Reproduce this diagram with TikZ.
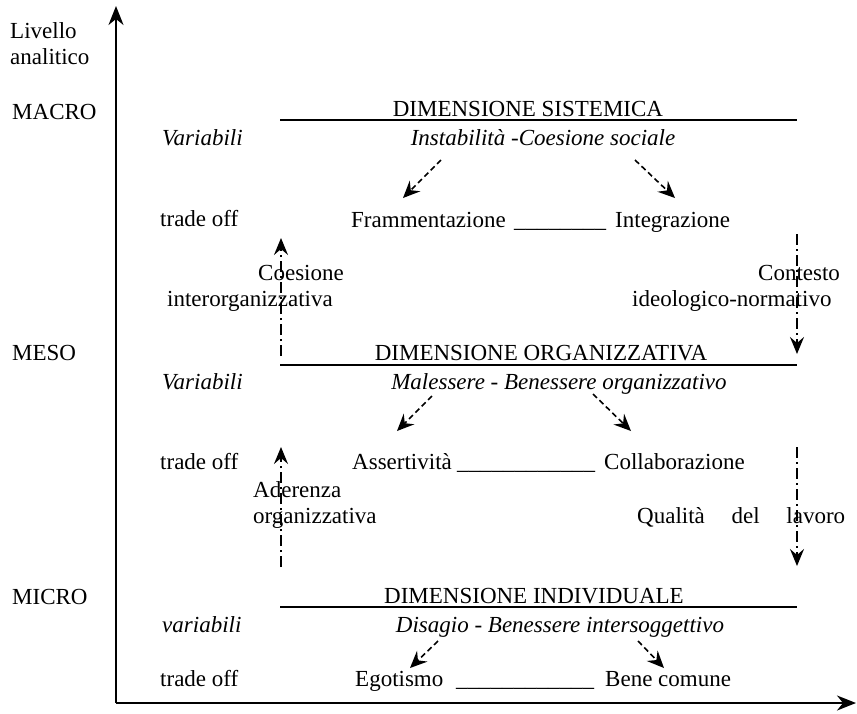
\documentclass[tikz,border=0pt]{standalone}
\usepackage{fontspec}
\setmainfont{Liberation Serif}
\usetikzlibrary{arrows.meta}
\begin{document}
\begin{tikzpicture}[x=1pt,y=-1pt,
  txt/.style={inner sep=0pt,anchor=base west,font=\fontsize{23}{26}\selectfont},
  ctxt/.style={txt,anchor=base},
  itxt/.style={txt,font=\fontsize{23}{26}\selectfont\itshape},
  ictxt/.style={itxt,anchor=base},
  axis/.style={line width=1.9pt,-{Stealth[length=19pt,width=15pt,inset=6pt]}},
  hline/.style={line width=1.7pt},
  darrow/.style={line width=1.6pt,dash pattern=on 5.5pt off 3.5pt,-{Stealth[length=17pt,width=15pt,inset=6pt]}},
  ddarrow/.style={line width=1.4pt,dash pattern=on 11pt off 4pt on 2pt off 4pt,-{Stealth[length=17pt,width=14pt,inset=6pt]}}
]
\useasboundingbox (0,0) rectangle (857,713);

% axes
\coordinate (O) at (116,703);
\coordinate (Ytop) at (116,6);
\coordinate (Xend) at (856,703);
\draw[axis] (O) -- (Ytop);
\draw[axis] (O) -- (Xend);

% left labels
\node[txt] (liv) at (10,38) {Livello};
\node[txt] (ana) at (10,64) {analitico};
\node[txt] (macro) at (12,119) {MACRO};
\node[txt] (meso) at (12,360) {MESO};
\node[txt] (micro) at (12,604) {MICRO};
\node[itxt] (var1) at (162,145) {Variabili};
\node[itxt] (var2) at (162,389) {Variabili};
\node[itxt] (var3) at (162,632) {variabili};
\node[txt] (to1) at (160,226) {trade off};
\node[txt] (to2) at (160,469) {trade off};
\node[txt] (to3) at (160,686) {trade off};

% level lines
\coordinate (l1a) at (280,120); \coordinate (l1b) at (797,120);
\coordinate (l2a) at (280,365); \coordinate (l2b) at (797,365);
\coordinate (l3a) at (280,607); \coordinate (l3b) at (797,607);
\draw[hline] (l1a) -- (l1b);
\draw[hline] (l2a) -- (l2b);
\draw[hline] (l3a) -- (l3b);

% MACRO level
\node[ctxt] (dim1) at (528,116) {DIMENSIONE SISTEMICA};
\node[ictxt] (v1) at (543,145) {Instabilità -Coesione sociale};
\node[txt] (fram) at (351,227) {Frammentazione};
\node[txt] (u1) at (514,227) {\_\_\_\_\_\_\_\_};
\node[txt] (integ) at (615,227) {Integrazione};
\coordinate (a1s) at (441,160); \coordinate (a1e) at (403,198);
\coordinate (b1s) at (635,160); \coordinate (b1e) at (675,198);
\draw[darrow] (a1s) -- (a1e);
\draw[darrow] (b1s) -- (b1e);

% between MACRO and MESO
\coordinate (c1s) at (281,356); \coordinate (c1e) at (281,238);
\draw[ddarrow] (c1s) -- (c1e);
\coordinate (d1s) at (797,234); \coordinate (d1e) at (797,354);
\draw[ddarrow] (d1s) -- (d1e);
\node[txt] (coe) at (258,280) {Coesione};
\node[txt] (inter) at (167,306) {interorganizzativa};
\node[txt] (cont) at (758,280) {Contesto};
\node[txt] (ideo) at (632,306) {ideologico-normativo};

% MESO level
\node[ctxt] (dim2) at (541,360) {DIMENSIONE ORGANIZZATIVA};
\node[ictxt] (v2) at (559,389) {Malessere - Benessere organizzativo};
\node[txt] (ass) at (352,469) {Assertività};
\node[txt] (u2) at (457,469) {\_\_\_\_\_\_\_\_\_\_\_\_};
\node[txt] (coll) at (604,469) {Collaborazione};
\coordinate (a2s) at (432,396); \coordinate (a2e) at (397,431);
\coordinate (b2s) at (593,394); \coordinate (b2e) at (631,431);
\draw[darrow] (a2s) -- (a2e);
\draw[darrow] (b2s) -- (b2e);

% between MESO and MICRO
\coordinate (c2s) at (281,567); \coordinate (c2e) at (281,447);
\draw[ddarrow] (c2s) -- (c2e);
\coordinate (d2s) at (797,447); \coordinate (d2e) at (797,566);
\draw[ddarrow] (d2s) -- (d2e);
\node[txt] (ade) at (253,497) {Aderenza};
\node[txt] (org) at (253,523) {organizzativa};
\node[txt] (qual) at (637,523) {\makebox[208pt][s]{Qualità del lavoro}};

% MICRO level
\node[ctxt] (dim3) at (534,603) {DIMENSIONE INDIVIDUALE};
\node[ictxt] (v3) at (560,632) {Disagio - Benessere intersoggettivo};
\node[txt] (ego) at (355,686) {Egotismo};
\node[txt] (u3) at (456,686) {\_\_\_\_\_\_\_\_\_\_\_\_};
\node[txt] (bene) at (605,686) {Bene comune};
\coordinate (a3s) at (438,641); \coordinate (a3e) at (410,668);
\coordinate (b3s) at (638,641); \coordinate (b3e) at (664,668);
\draw[darrow] (a3s) -- (a3e);
\draw[darrow] (b3s) -- (b3e);
\end{tikzpicture}
\end{document}
